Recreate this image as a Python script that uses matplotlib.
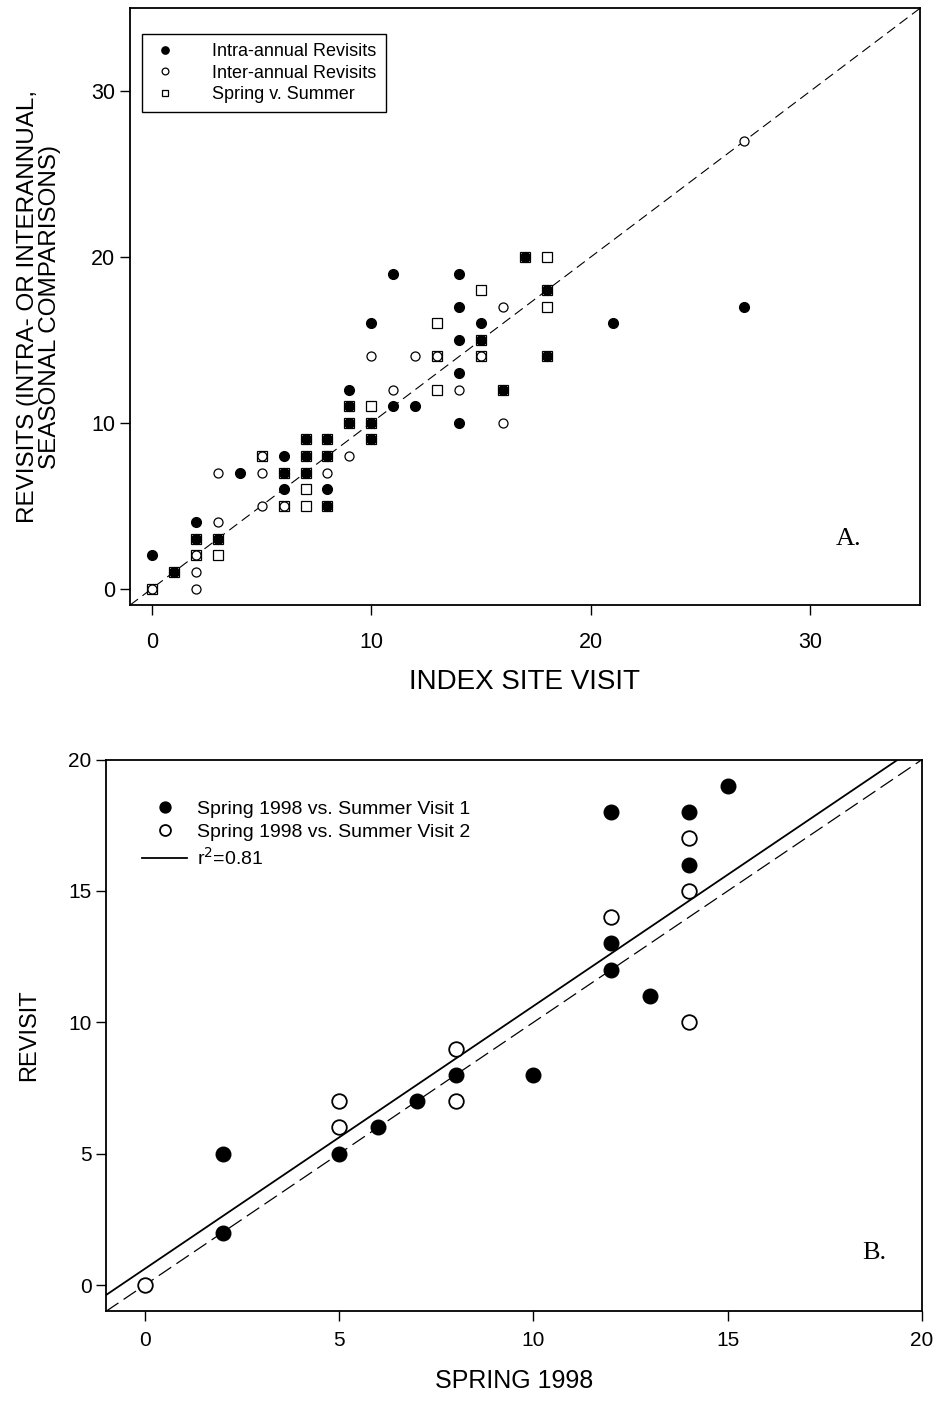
import matplotlib
matplotlib.use("Agg")
import matplotlib.pyplot as plt
import numpy as np

plt.rcParams["font.family"] = ["Liberation Sans", "DejaVu Sans"]

# panel A - index site visit vs revisit
intra_x = [0, 1, 2, 2, 3, 4, 6, 6, 6, 7, 7, 7, 8, 8, 8, 8, 9, 9, 9, 10, 10, 10,
           11, 11, 12, 14, 14, 14, 14, 14, 15, 15, 16, 17, 18, 18, 21, 27]
intra_y = [2, 1, 4, 3, 3, 7, 8, 7, 6, 9, 8, 7, 9, 8, 6, 5, 12, 11, 10, 16, 10, 9,
           19, 11, 11, 19, 17, 15, 13, 10, 16, 15, 12, 20, 18, 14, 16, 17]

inter_x = [0, 2, 2, 2, 3, 3, 5, 5, 5, 6, 8, 9, 10, 11, 12, 13, 14, 15, 16, 16, 27]
inter_y = [0, 2, 1, 0, 7, 4, 8, 7, 5, 5, 7, 8, 14, 12, 14, 14, 12, 14, 17, 10, 27]

spsu_x = [0, 1, 2, 2, 3, 3, 5, 6, 6, 7, 7, 7, 7, 7, 8, 8, 8, 9, 9, 10, 10, 10,
          13, 13, 13, 15, 15, 15, 16, 17, 18, 18, 18, 18]
spsu_y = [0, 1, 2, 3, 3, 2, 8, 7, 5, 9, 8, 7, 6, 5, 9, 8, 5, 11, 10, 11, 10, 9,
          16, 14, 12, 18, 15, 14, 12, 20, 20, 18, 17, 14]

# panel B - spring 1998 vs summer revisits
v1_x = [2, 2, 5, 6, 7, 8, 10, 12, 12, 12, 13, 14, 14, 15]
v1_y = [5, 2, 5, 6, 7, 8, 8, 18, 13, 12, 11, 18, 16, 19]
v2_x = [0, 5, 5, 8, 8, 12, 14, 14, 14]
v2_y = [0, 7, 6, 9, 7, 14, 17, 15, 10]
fit_slope, fit_intercept = 1.0, 0.62

fig = plt.figure(figsize=(9.38, 14.04), dpi=100)

#panel A
ax = fig.add_axes([0.1386, 0.569, 0.842, 0.425])
lim = np.array([-1, 35])
ax.plot(lim, lim, color="black", lw=0.8, dashes=(9, 5))
ax.plot(spsu_x, spsu_y, ls="none", marker="s", ms=6.5, mfc="white", mec="black",
        mew=0.9, label="Spring v. Summer", zorder=3)
ax.plot(inter_x, inter_y, ls="none", marker="o", ms=6.5, mfc="white", mec="black",
        mew=0.9, label="Inter-annual Revisits", zorder=3)
ax.plot(intra_x, intra_y, ls="none", marker="o", ms=7, mfc="black", mec="black",
        label="Intra-annual Revisits", zorder=4)
ax.set_xlim(*lim)
ax.set_ylim(*lim)
ax.set_xticks([0, 10, 20, 30])
ax.set_yticks([0, 10, 20, 30])
ax.tick_params(direction="out", length=7, width=1, labelsize=15.5)
ax.tick_params(axis="x", pad=12)
for s in ax.spines.values():
    s.set_linewidth(1.3)
ax.set_xlabel("INDEX SITE VISIT", fontsize=20, labelpad=12)
ax.set_ylabel("REVISITS (INTRA- OR INTERANNUAL,\nSEASONAL COMPARISONS)", fontsize=17.5,
              labelpad=22, linespacing=1.0)
h, l = ax.get_legend_handles_labels()
leg = ax.legend(h[::-1], l[::-1], loc="upper left", bbox_to_anchor=(0.015, 0.957),
                borderaxespad=0, fontsize=13, markerscale=0.75, fancybox=False,
                edgecolor="black", framealpha=1, handletextpad=1.8, labelspacing=0.25,
                borderpad=0.5, handlelength=1.6)
leg.get_frame().set_linewidth(1.0)
ax.text(0.91, 0.11, "A.", transform=ax.transAxes, fontsize=19,
        family="Liberation Serif", ha="center", va="center")

#panel B
bx = fig.add_axes([0.113, 0.066, 0.870, 0.393])
limb = np.array([-1, 20])
bx.plot(limb, limb, color="black", lw=0.9, dashes=(12, 5))
bx.plot(limb, fit_slope * limb + fit_intercept, color="black", lw=1.3,
        label=r"r$^2$=0.81")
bx.plot(v1_x, v1_y, ls="none", marker="o", ms=10.5, mfc="black", mec="black",
        label="Spring 1998 vs. Summer Visit 1", zorder=3)
bx.plot(v2_x, v2_y, ls="none", marker="o", ms=10.5, mfc="white", mec="black",
        mew=1.3, label="Spring 1998 vs. Summer Visit 2", zorder=3)
bx.set_xlim(*limb)
bx.set_ylim(*limb)
bx.set_xticks([0, 5, 10, 15, 20])
bx.set_yticks([0, 5, 10, 15, 20])
bx.tick_params(direction="out", length=7, width=1, labelsize=15)
bx.tick_params(axis="x", pad=7)
for s in bx.spines.values():
    s.set_linewidth(1.3)
bx.set_xlabel("SPRING 1998", fontsize=18, labelpad=14)
bx.set_ylabel("REVISIT", fontsize=17, labelpad=20)
h, l = bx.get_legend_handles_labels()
bx.legend([h[1], h[2], h[0]], [l[1], l[2], l[0]], loc="upper left",
          bbox_to_anchor=(0.035, 0.94), borderaxespad=0, frameon=False, fontsize=14,
          markerscale=0.75, handlelength=2.3, handletextpad=0.5, labelspacing=0.28)
bx.text(0.942, 0.105, "B.", transform=bx.transAxes, fontsize=19,
        family="Liberation Serif", ha="center", va="center")

fig.savefig("out.png", dpi=100)
